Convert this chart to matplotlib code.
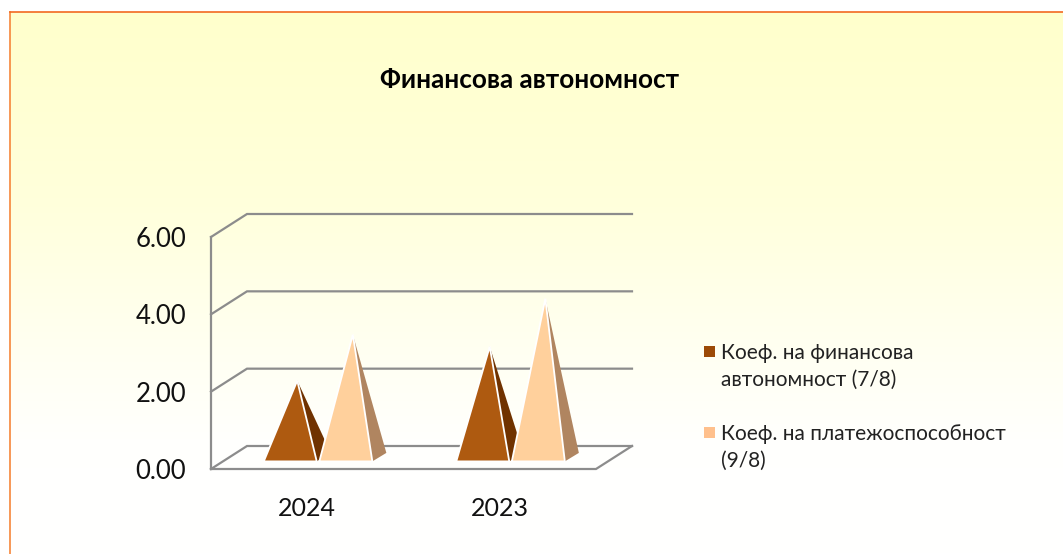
import numpy as np
import matplotlib
matplotlib.use("Agg")
import matplotlib.pyplot as plt
from matplotlib.patches import Polygon, Rectangle

plt.rcParams['font.family'] = ['Lato', 'Open Sans', 'DejaVu Sans']

W, H = 1063, 554

title = "Финансова автономност"
categories = ["2024", "2023"]
series_names = ["Коеф. на финансова\nавтономност (7/8)", "Коеф. на платежоспособност\n(9/8)"]
fin_autonomy = [1.98, 2.86]
solvency = [3.17, 4.10]
yticks = [0, 2, 4, 6]
ytick_labels = ["0.00", "2.00", "4.00", "6.00"]

front_colors = ["#AE5A10", "#FFD09C"]
side_colors = ["#703200", "#B08560"]
legend_colors = ["#9C4A06", "#FFC08C"]
grid_color = "#8C8C8C"
text_color = "#111111"

# pixel sizes of the fake 3d
px_per_cat = 385 / 2
px_per_val = 232 / 6
wall_dx, wall_dy = 36 / px_per_cat, 23 / px_per_val
base_dx, base_dy = 10.8 / px_per_cat, 7.6 / px_per_val
side_dx, side_dy = 14 / px_per_cat, 8.5 / px_per_val
bar_w = 53 / px_per_cat
bar_gap = 2.6 / px_per_cat


def fx(x):
    return x / W


def fy(y):
    return 1 - y / H


fig = plt.figure(figsize=(W / 100, H / 100), dpi=100, facecolor="white")

# background with the yellow gradient
bg = fig.add_axes([fx(10), 0, 1 - fx(10), fy(12)], zorder=0)
grad_y = [0.0, 0.35, 0.6, 0.8, 1.0]
grad_c = [0.80, 0.86, 0.94, 0.995, 1.0]
blue = np.interp(np.linspace(0, 1, 256), grad_y, grad_c)
img = np.ones((256, 1, 3))
img[:, 0, 2] = blue
bg.imshow(img, aspect="auto", extent=[0, 1, 0, 1], interpolation="bilinear")
bg.axis("off")
fig.add_artist(plt.Line2D([fx(9.5), fx(9.5)], [0, fy(11.5)], color="#F6863A", lw=1.2))
fig.add_artist(plt.Line2D([fx(9.5), 1], [fy(11.5), fy(11.5)], color="#F26A21", lw=1.2))

ax = fig.add_axes([fx(211), fy(469), fx(385), 232 / H], zorder=1)
ax.patch.set_alpha(0)
ax.set_xlim(0, 2)
ax.set_ylim(0, 6)
for s in ax.spines.values():
    s.set_visible(False)

# walls and gridlines
for v in yticks:
    ax.plot([0, wall_dx, 2 + wall_dx], [v, v + wall_dy, v + wall_dy],
            color=grid_color, lw=1.6, clip_on=False, zorder=1, solid_joinstyle="miter")
ax.plot([0, 0], [0, 6], color=grid_color, lw=1.6, clip_on=False, zorder=1)
ax.plot([0, 2, 2 + wall_dx], [0, 0, wall_dy], color=grid_color, lw=1.6, clip_on=False, zorder=1,
        solid_joinstyle="miter")

# pyramids
for i in range(len(categories)):
    center = i + 0.5 + base_dx
    for j, vals in enumerate([fin_autonomy, solvency]):
        left = center - bar_w - bar_gap / 2 if j == 0 else center + bar_gap / 2
        right = left + bar_w
        apex = (left + bar_w / 2 + side_dx / 2, base_dy + side_dy / 2 + vals[i])
        z = 3 + j * 2
        ax.add_patch(Polygon([(right, base_dy), (right + side_dx, base_dy + side_dy), apex],
                             closed=True, facecolor=side_colors[j], edgecolor="none",
                             clip_on=False, zorder=z))
        ax.add_patch(Polygon([(left, base_dy), (right, base_dy), apex],
                             closed=True, facecolor=front_colors[j], edgecolor="white", lw=1.3,
                             clip_on=False, zorder=z + 1, joinstyle="miter"))

ax.set_xticks([0.5, 1.5])
ax.set_xticklabels(categories, fontsize=18, color=text_color)
ax.set_yticks(yticks)
ax.set_yticklabels(ytick_labels, fontsize=18.5, color=text_color, va="center_baseline")
ax.tick_params(axis="x", length=0, pad=20)
ax.tick_params(axis="y", length=0, pad=18)

fig.text(fx(530), fy(80), title, ha="center", va="center", fontsize=18.8, fontweight="bold", color="black")

# legend
legend_y = [352, 433]
for name, col, y in zip(series_names, legend_colors, legend_y):
    fig.add_artist(Rectangle((fx(704), fy(y + 5)), 11 / W, 11 / H, transform=fig.transFigure,
                             facecolor=col, edgecolor="none"))
    fig.text(fx(721), fy(y - 9), name, ha="left", va="top", fontsize=15, color="#222222",
             linespacing=1.42)

fig.savefig("out.png", dpi=100)
